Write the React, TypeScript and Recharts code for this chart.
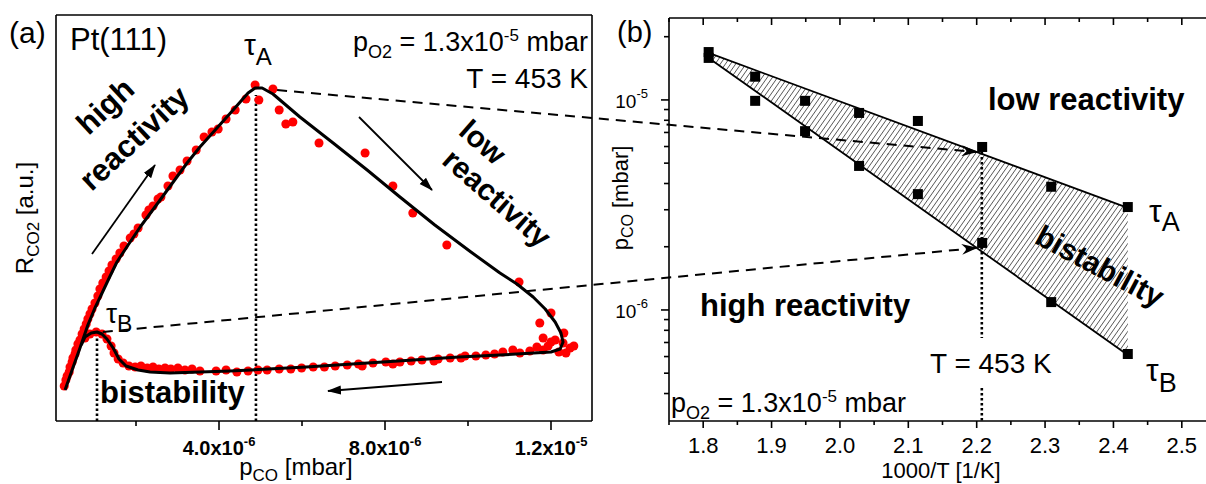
import React from 'react';
import { ComposedChart, Scatter, XAxis, YAxis, ReferenceLine, Area, Line } from 'recharts';

const FONT = '"Liberation Sans", Arial, Helvetica, sans-serif';

// ---------------- Panel (a) ----------------
// p_CO in units of 1e-6 mbar, R_CO2 in arbitrary units
const aModelCurve: [number, number][] = [
  [0.29, 31], [0.46, 51], [0.65, 73], [0.84, 96], [1.01, 113], [1.16, 126], [1.33, 141], [1.54, 159],
  [1.81, 176], [2.10, 194], [2.58, 221], [3.23, 258], [3.54, 274], [4.34, 311], [4.70, 328], [4.87, 333],
  [5.04, 333], [5.30, 327], [5.95, 304], [6.75, 278], [7.57, 251], [8.36, 224], [9.20, 196], [10.07, 169],
  [10.77, 148], [11.18, 137], [11.57, 124], [11.86, 112], [12.10, 99], [12.24, 88], [12.29, 79], [12.22, 72],
  [12.00, 69], [10.77, 66], [9.78, 64], [7.95, 59], [6.10, 54], [4.27, 50], [2.82, 48], [2.34, 49],
  [2.05, 51], [1.76, 55], [1.59, 62], [1.45, 73], [1.30, 82], [1.18, 87], [1.06, 89], [0.92, 88],
  [0.77, 84], [0.68, 76],
];

const aRisingRates: [number, number][] = [
  [0.27, 35], [0.31, 41], [0.34, 45], [0.39, 49], [0.41, 54], [0.46, 59], [0.48, 63], [0.53, 67], [0.55, 71],
  [0.60, 77], [0.65, 81], [0.70, 87], [0.75, 92], [0.80, 97], [0.84, 102], [0.89, 107], [0.94, 112], [1.01, 118],
  [1.08, 125], [1.13, 132], [1.20, 138], [1.28, 144], [1.35, 150], [1.42, 156], [1.52, 162], [1.61, 168],
  [1.71, 175], [1.86, 183], [1.95, 187], [2.05, 193], [2.24, 206], [2.31, 211], [2.41, 215], [2.53, 222],
  [2.60, 224], [2.77, 235], [2.89, 245], [3.06, 251], [3.23, 260], [3.45, 271], [3.64, 284], [3.83, 289],
  [3.98, 292], [4.17, 302], [4.39, 311], [4.65, 322], [4.87, 336],
];

const aFallingRates: [number, number][] = [
  [4.96, 321], [5.30, 332], [5.45, 311], [5.61, 297], [5.78, 299], [6.41, 278], [7.52, 268], [8.19, 235],
  [8.67, 208], [9.49, 176], [11.23, 139], [11.73, 98], [12.00, 108], [11.81, 83], [12.00, 79], [12.31, 88],
  [12.29, 78], [12.46, 73], [12.36, 68], [11.81, 71], [12.19, 69], [11.08, 71], [11.25, 68], [11.49, 70],
  [11.66, 74], [11.93, 75], [12.10, 81], [12.55, 75],
];

const aLowRates: [number, number][] = [
  [0.77, 83], [0.89, 87], [1.04, 89], [1.18, 87], [1.30, 82], [1.40, 75], [1.47, 68], [1.57, 62], [1.69, 58],
  [1.83, 55], [1.98, 54], [2.12, 55], [2.27, 53], [2.41, 54], [2.55, 52], [2.70, 53], [2.84, 52], [3.01, 53],
  [3.18, 51], [3.35, 52], [3.54, 50], [3.93, 50], [4.17, 51], [4.43, 49], [4.70, 50], [4.94, 51], [5.16, 51],
  [5.45, 52], [5.73, 52], [5.99, 53], [6.27, 54], [6.54, 54], [6.80, 55], [7.09, 56], [7.36, 57], [7.45, 55],
  [7.71, 58], [8.02, 59], [8.19, 57], [8.36, 59], [8.63, 60], [8.89, 61], [9.18, 60], [9.28, 62], [9.57, 63],
  [9.83, 63], [9.93, 65], [10.19, 65], [10.43, 66], [10.64, 67], [10.84, 69],
];

const aXDomain: [number, number] = [0.072, 12.988];
const aYDomain: [number, number] = [0, 406];
const aXTicks = [2, 4, 6, 8, 10, 12];
const aXTickLabels: Record<number, [string, string]> = { 4: ['4.0x10', '-6'], 8: ['8.0x10', '-6'], 12: ['1.2x10', '-5'] };
const aTauA = { x: 4.89, y: 326 };
const aTauB = { x: 1.06, y: 86 };
const aDashStartA = { x: 5.4, y: 331 };
const aDashStartB = { x: 1.2, y: 89 };

// ---------------- Panel (b) ----------------
const bInvT = [1.808, 1.876, 1.949, 2.028, 2.114, 2.208, 2.309, 2.421];
const bTauA = [1.69e-5, 1.29e-5, 9.9e-6, 8.67e-6, 7.94e-6, 5.97e-6, 3.86e-6, 3.09e-6];
const bTauB = [1.585e-5, 9.9e-6, 7.1e-6, 4.85e-6, 3.56e-6, 2.085e-6, 1.09e-6, 6.17e-7];
const bFitX = [1.808, 2.421];
const bFitA = [1.675e-5, 3.06e-6];
const bFitB = [1.585e-5, 6.1e-7];
const bXTicks = [1.75, 1.8, 1.85, 1.9, 1.95, 2.0, 2.05, 2.1, 2.15, 2.2, 2.25, 2.3, 2.35, 2.4, 2.45, 2.5, 2.55];
const bYTicks = [2e-5, 1e-5, 9e-6, 8e-6, 7e-6, 6e-6, 5e-6, 4e-6, 3e-6, 2e-6, 1e-6, 9e-7, 8e-7, 7e-7, 6e-7, 5e-7, 4e-7];
const bYLabels: Record<string, string> = { '0.00001': '-5', '0.000001': '-6' };
const bXDomain: [number, number] = [1.75, 2.55];
const bYDomain: [number, number] = [2.96e-7, 2.455e-5];
const bT453 = 2.2075;
const bArrowX = 2.2;

// ---------------- layout ----------------
const A_W = 600, A_H = 484, A_LEFT = 56, A_RIGHT = 592, A_TOP = 15, A_BOTTOM = 421;
const B_OFF = 580, B_W = 646, B_LEFT = 669, B_RIGHT = 1216, B_TOP = 18, B_BOTTOM = 421;

const xA = (v: number) => A_LEFT + ((v - aXDomain[0]) / (aXDomain[1] - aXDomain[0])) * (A_RIGHT - A_LEFT);
const yA = (v: number) => A_BOTTOM - ((v - aYDomain[0]) / (aYDomain[1] - aYDomain[0])) * (A_BOTTOM - A_TOP);
const xB = (v: number) => B_LEFT + ((v - bXDomain[0]) / (bXDomain[1] - bXDomain[0])) * (B_RIGHT - B_LEFT);
const yB = (v: number) =>
  B_TOP + ((Math.log10(bYDomain[1]) - Math.log10(v)) / (Math.log10(bYDomain[1]) - Math.log10(bYDomain[0]))) * (B_BOTTOM - B_TOP);
const fitAt = (fy: number[], x: number) => {
  const t = (x - bFitX[0]) / (bFitX[1] - bFitX[0]);
  return Math.pow(10, Math.log10(fy[0]) + t * (Math.log10(fy[1]) - Math.log10(fy[0])));
};

const toXY = (arr: [number, number][]) => arr.map(([x, y]) => ({ x, y }));
const aCurveData = toXY(aModelCurve);
const aDotData = toXY([...aRisingRates, ...aFallingRates, ...aLowRates]);
const bSquares = [
  ...bInvT.map((x, i) => ({ x, y: bTauA[i] })),
  ...bInvT.map((x, i) => ({ x, y: bTauB[i] })),
];
const bFitRows = bFitX.map((x, i) => ({ x, hi: bFitA[i], lo: bFitB[i], band: [bFitB[i], bFitA[i]] }));

const axisStyle = { stroke: '#000', strokeWidth: 1.6 };

const AXTick = (props: any) => {
  const { x, y, payload } = props;
  const lab = aXTickLabels[payload.value as number];
  return (
    <g>
      <line x1={x} x2={x} y1={y} y2={y + (lab ? 9 : 5)} stroke="#000" strokeWidth={1.6} />
      {lab && (
        <text x={x} y={y + 34} textAnchor="middle" fontFamily={FONT} fontWeight="bold" fontSize={20} fill="#000">
          {lab[0]}
          <tspan dy={-9} fontSize={13}>{lab[1]}</tspan>
        </text>
      )}
    </g>
  );
};

const isMajorB = (v: number) => Math.abs(v * 10 - Math.round(v * 10)) < 1e-6;

const BXTick = (props: any) => {
  const { x, y, payload } = props;
  const v = payload.value as number;
  const major = isMajorB(v);
  return (
    <g>
      <line x1={x} x2={x} y1={y} y2={y + (major ? 7 : 4)} stroke="#000" strokeWidth={1.6} />
      {major && (
        <text x={x} y={y + 32} textAnchor="middle" fontFamily={FONT} fontSize={22} fill="#000">
          {v.toFixed(1)}
        </text>
      )}
    </g>
  );
};

const BTopTick = (props: any) => {
  const { x, y, payload } = props;
  const major = isMajorB(payload.value as number);
  return <line x1={x} x2={x} y1={y} y2={y + (major ? 7 : 4)} stroke="#000" strokeWidth={1.6} />;
};

const BYTick = (props: any) => {
  const { x, y, payload } = props;
  const v = payload.value as number;
  const exp = bYLabels[String(v)];
  return (
    <g>
      <line x1={x - (exp ? 8 : 5)} x2={x} y1={y} y2={y} stroke="#000" strokeWidth={1.6} />
      {exp && (
        <text x={x - 21} y={y + 8} textAnchor="end" fontFamily={FONT} fontSize={19} fill="#000">
          10
          <tspan dy={-10} fontSize={13}>{exp}</tspan>
        </text>
      )}
    </g>
  );
};

const Square = (p: any) => <rect x={p.cx - 5} y={p.cy - 5} width={10} height={10} fill="#000" />;
const NoShape = () => <g />;

const T = (p: any) => <text fontFamily={FONT} fill="#000" {...p} />;

export default function App() {
  const dashA = { x1: xA(aDashStartA.x), y1: yA(aDashStartA.y), x2: xB(bArrowX), y2: yB(fitAt(bFitA, bArrowX)) };
  const dashB = { x1: xA(aDashStartB.x), y1: yA(aDashStartB.y), x2: xB(bArrowX), y2: yB(fitAt(bFitB, bArrowX)) };
  return (
    <div style={{ position: 'fixed', left: 0, top: 0, width: 1206, height: 484, overflow: 'hidden', background: '#fff' }}>
      <div style={{ position: 'absolute', left: 0, top: 0 }}>
        <ComposedChart width={A_W} height={A_H}
          margin={{ top: A_TOP - 1, right: A_W - A_RIGHT - 1, bottom: 0, left: A_LEFT - 1 }}>
          <XAxis dataKey="x" type="number" domain={aXDomain} ticks={aXTicks} interval={0} height={A_H - A_BOTTOM}
            tickSize={0} tickMargin={0} tickLine={false} tick={<AXTick />} axisLine={axisStyle} allowDataOverflow />
          <XAxis xAxisId="top" orientation="top" type="number" domain={aXDomain} ticks={aXTicks} height={1}
            tick={false} tickLine={false} axisLine={axisStyle} allowDataOverflow />
          <YAxis dataKey="y" type="number" domain={aYDomain} ticks={[0, 406]} width={1} tick={false} tickLine={false}
            axisLine={axisStyle} allowDataOverflow />
          <YAxis yAxisId="right" orientation="right" type="number" domain={aYDomain} ticks={[0, 406]} width={1}
            tick={false} tickLine={false} axisLine={axisStyle} allowDataOverflow />
          <Scatter data={aDotData} fill="#ff0000" isAnimationActive={false} />
          <Scatter data={aCurveData} fill="#000" shape={NoShape}
            line={{ stroke: '#000', strokeWidth: 3, strokeLinejoin: 'round', fill: 'none' }} isAnimationActive={false} />
          <ReferenceLine segment={[{ x: aTauA.x, y: 0 }, { x: aTauA.x, y: aTauA.y }]} stroke="#000" strokeWidth={2.6}
            strokeDasharray="2.5 2.5" />
          <ReferenceLine segment={[{ x: aTauB.x, y: 0 }, { x: aTauB.x, y: aTauB.y }]} stroke="#000" strokeWidth={2.6}
            strokeDasharray="2.5 2.5" />
        </ComposedChart>
      </div>

      <div style={{ position: 'absolute', left: B_OFF, top: 0 }}>
        <ComposedChart width={B_W} height={A_H} data={bFitRows}
          margin={{ top: B_TOP - 1, right: B_W - (B_RIGHT - B_OFF), bottom: 0, left: B_LEFT - B_OFF - 1 }}>
          <defs>
            <pattern id="hatch" patternUnits="userSpaceOnUse" width="4.2" height="4.2" patternTransform="rotate(35)">
              <line x1="0" y1="0" x2="0" y2="4.2" stroke="#000" strokeWidth="1.1" />
            </pattern>
          </defs>
          <XAxis dataKey="x" type="number" domain={bXDomain} ticks={bXTicks} interval={0} height={A_H - B_BOTTOM}
            tickSize={0} tickMargin={0} tickLine={false} tick={<BXTick />} axisLine={axisStyle} allowDataOverflow />
          <XAxis xAxisId="top" orientation="top" dataKey="x" type="number" domain={bXDomain} ticks={bXTicks} interval={0}
            height={1} tickSize={0} tickMargin={0} tickLine={false} tick={<BTopTick />} axisLine={axisStyle} allowDataOverflow />
          <YAxis dataKey="y" type="number" scale="log" domain={bYDomain} ticks={bYTicks} interval={0} width={1}
            tickSize={0} tickMargin={0} tickLine={false} tick={<BYTick />} axisLine={axisStyle} allowDataOverflow />
          <Area dataKey="band" type="linear" fill="url(#hatch)" fillOpacity={1} stroke="none" isAnimationActive={false} />
          <Line dataKey="hi" type="linear" stroke="#000" strokeWidth={1.8} dot={false} isAnimationActive={false} />
          <Line dataKey="lo" type="linear" stroke="#000" strokeWidth={1.8} dot={false} isAnimationActive={false} />
          <Scatter data={bSquares} fill="#000" shape={Square} isAnimationActive={false} />
          <ReferenceLine segment={[{ x: bT453, y: bTauA[5] }, { x: bT453, y: 7.36e-7 }]} stroke="#000" strokeWidth={2.6}
            strokeDasharray="2.5 2.5" />
          <ReferenceLine segment={[{ x: bT453, y: 4.25e-7 }, { x: bT453, y: bYDomain[0] }]} stroke="#000" strokeWidth={2.6}
            strokeDasharray="2.5 2.5" />
        </ComposedChart>
      </div>

      <svg width={1206} height={484} style={{ position: 'absolute', left: 0, top: 0, pointerEvents: 'none' }}>
        <defs>
          <marker id="arrA" markerUnits="userSpaceOnUse" markerWidth="14" markerHeight="10" refX="13" refY="5" orient="auto">
            <path d="M0,0.5 L14,5 L0,9.5 Z" fill="#000" />
          </marker>
          <marker id="arrB" markerUnits="userSpaceOnUse" markerWidth="16" markerHeight="11" refX="15" refY="5.5" orient="auto">
            <path d="M0,0 L16,5.5 L0,11 L5,5.5 Z" fill="#000" />
          </marker>
        </defs>

        {/* cross-panel dashed connectors */}
        <line {...dashA} stroke="#000" strokeWidth={2} strokeDasharray="10 7" markerEnd="url(#arrB)" />
        <line {...dashB} stroke="#000" strokeWidth={2} strokeDasharray="10 7" markerEnd="url(#arrB)" />

        {/* panel (a) arrows */}
        <line x1={92} y1={254} x2={155} y2={165} stroke="#000" strokeWidth={1.8} markerEnd="url(#arrA)" />
        <line x1={359} y1={117} x2={432} y2={190} stroke="#000" strokeWidth={1.8} markerEnd="url(#arrA)" />
        <line x1={442} y1={382} x2={328} y2={391} stroke="#000" strokeWidth={1.8} markerEnd="url(#arrA)" />

        {/* panel (a) texts */}
        <T x={9} y={43} fontSize={30}>(a)</T>
        <T x={70} y={50} fontSize={31}>Pt(111)</T>
        <T x={244} y={55} fontSize={30}>τ<tspan fontSize={24} dy={10}>A</tspan></T>
        <T x={588} y={51} fontSize={27} textAnchor="end">
          p<tspan fontSize={18} dy={7}>O2</tspan><tspan dy={-7}> = 1.3x10</tspan><tspan fontSize={17} dy={-10}>-5</tspan>
          <tspan dy={10}> mbar</tspan>
        </T>
        <T x={588} y={88} fontSize={28} textAnchor="end">T = 453 K</T>
        <T x={106} y={323} fontSize={28}>τ<tspan fontSize={23} dy={9}>B</tspan></T>
        <T x={100} y={403} fontSize={31} fontWeight="bold">bistability</T>
        <T x={105} y={106} dy="0.35em" fontSize={31} fontWeight="bold" textAnchor="middle" transform="rotate(-43 105 106)">high</T>
        <T x={134} y={138} dy="0.35em" fontSize={31} fontWeight="bold" textAnchor="middle" transform="rotate(-43 134 138)">reactivity</T>
        <T x={483} y={142} dy="0.35em" fontSize={30} fontWeight="bold" textAnchor="middle" transform="rotate(41 483 142)">low</T>
        <T x={497} y={198} dy="0.35em" fontSize={30} fontWeight="bold" textAnchor="middle" transform="rotate(41 497 198)">reactivity</T>
        <T x={296} y={475} fontSize={24} textAnchor="middle">
          p<tspan fontSize={17} dy={6}>CO</tspan><tspan dy={-6}> [mbar]</tspan>
        </T>
        <T x={33} y={218} fontSize={24} textAnchor="middle" transform="rotate(-90 33 218)">
          R<tspan fontSize={17} dy={6}>CO2</tspan><tspan dy={-6}> [a.u.]</tspan>
        </T>

        {/* panel (b) texts */}
        <T x={617} y={42} fontSize={29}>(b)</T>
        <T x={988} y={110} fontSize={31} fontWeight="bold">low reactivity</T>
        <T x={700} y={316} fontSize={31} fontWeight="bold">high reactivity</T>
        <T x={1100} y={266} dy="0.35em" fontSize={30} fontWeight="bold" textAnchor="middle" transform="rotate(28 1100 266)">bistability</T>
        <T x={1149} y={222} fontSize={32}>τ<tspan fontSize={27} dy={9}>A</tspan></T>
        <T x={1146} y={381} fontSize={32}>τ<tspan fontSize={27} dy={11}>B</tspan></T>
        <T x={930} y={373} fontSize={28}>T = 453 K</T>
        <T x={671} y={412} fontSize={27}>
          p<tspan fontSize={18} dy={7}>O2</tspan><tspan dy={-7}> = 1.3x10</tspan><tspan fontSize={17} dy={-10}>-5</tspan>
          <tspan dy={10}> mbar</tspan>
        </T>
        <T x={941} y={478} fontSize={22} textAnchor="middle">1000/T [1/K]</T>
        <T x={628} y={198} fontSize={22} textAnchor="middle" transform="rotate(-90 628 198)">
          p<tspan fontSize={16} dy={5}>CO</tspan><tspan dy={-5}> [mbar]</tspan>
        </T>
      </svg>
    </div>
  );
}
